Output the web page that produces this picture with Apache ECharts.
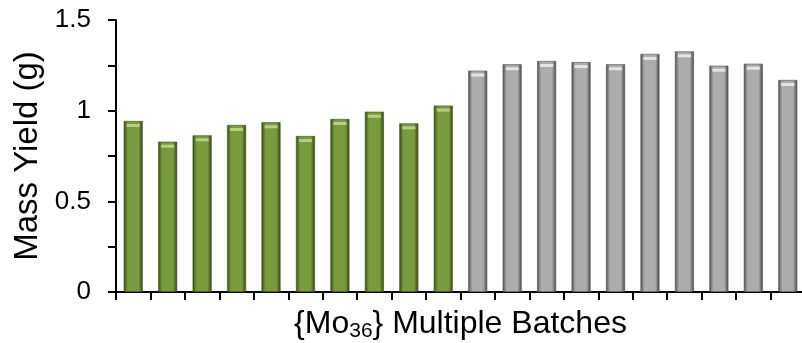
<!DOCTYPE html>
<html>
<head>
<meta charset="utf-8">
<script src="https://cdn.jsdelivr.net/npm/echarts@6/dist/echarts.min.js"></script>
<style>
html,body{margin:0;padding:0;background:#fff;}
#chart{width:802px;height:343px;}
</style>
</head>
<body>
<div id="chart"></div>
<script>
var categories = ['1','2','3','4','5','6','7','8','9','10','11','12','13','14','15','16','17','18','19','20'];
var greenValues = [0.943, 0.829, 0.864, 0.921, 0.936, 0.860, 0.954, 0.994, 0.930, 1.028, null, null, null, null, null, null, null, null, null, null];
var grayValues = [null, null, null, null, null, null, null, null, null, null, 1.221, 1.256, 1.274, 1.268, 1.256, 1.313, 1.327, 1.248, 1.259, 1.169];
var yTickLabels = ['0', '0.5', '1', '1.5'];
var yTitle = 'Mass Yield (g)';
var xTitle = '{Mo{s|36}} Multiple Batches';

function edgeGradient(edge, mid, main) {
  return new echarts.graphic.LinearGradient(0, 0, 1, 0, [
    {offset: 0, color: edge},
    {offset: 0.12, color: mid},
    {offset: 0.22, color: main},
    {offset: 0.78, color: main},
    {offset: 0.86, color: mid},
    {offset: 1, color: edge}
  ]);
}

var chart = echarts.init(document.getElementById('chart'), null, {renderer: 'canvas'});
var font = '"Liberation Sans", Arial, sans-serif';
chart.setOption({
  animation: false,
  backgroundColor: '#ffffff',
  grid: {left: 116, top: 20, width: 689, bottom: 51, containLabel: false, outerBoundsMode: 'none'},
  xAxis: {
    type: 'category',
    data: categories,
    boundaryGap: true,
    name: xTitle,
    nameLocation: 'middle',
    nameGap: 14,
    nameTextStyle: {
      fontFamily: font, fontSize: 32, color: '#000', lineHeight: 36,
      rich: {s: {fontFamily: font, fontSize: 21, color: '#000', verticalAlign: 'bottom', lineHeight: 24}}
    },
    axisLine: {lineStyle: {color: '#000', width: 2}},
    axisTick: {show: true, alignWithLabel: false, inside: false, length: 8, lineStyle: {color: '#000', width: 2}},
    axisLabel: {show: false},
    splitLine: {show: false}
  },
  yAxis: {
    type: 'value',
    min: 0,
    max: 1.5,
    interval: 0.25,
    name: yTitle,
    nameLocation: 'middle',
    nameGap: 70,
    nameTextStyle: {fontFamily: font, fontSize: 33, color: '#000'},
    axisLine: {show: true, lineStyle: {color: '#000', width: 2}},
    axisTick: {show: true, inside: false, length: 8, lineStyle: {color: '#000', width: 2}},
    axisLabel: {
      fontFamily: font, fontSize: 26, color: '#000', margin: 25,
      formatter: function (v) {
        for (var i = 0; i < yTickLabels.length; i++) {
          if (Math.abs(parseFloat(yTickLabels[i]) - v) < 1e-9) return yTickLabels[i];
        }
        return '';
      }
    },
    splitLine: {show: false}
  },
  series: [
    {
      type: 'bar', data: greenValues, barWidth: 19, barGap: '-100%',
      itemStyle: {color: edgeGradient('#34461a', '#5f7a2c', '#7a9a3e'), borderColor: '#3f5419', borderWidth: 0.6}
    },
    {
      type: 'bar', data: grayValues, barWidth: 19, barGap: '-100%',
      itemStyle: {color: edgeGradient('#444444', '#888888', '#acacac'), borderColor: '#555', borderWidth: 0.6}
    },
    {
      type: 'pictorialBar', data: greenValues, symbol: 'rect', symbolSize: [13, 3],
      symbolPosition: 'end', symbolOffset: [0, 3], barGap: '-100%', z: 5,
      itemStyle: {color: '#b5d080'}
    },
    {
      type: 'pictorialBar', data: grayValues, symbol: 'rect', symbolSize: [13, 3],
      symbolPosition: 'end', symbolOffset: [0, 3], barGap: '-100%', z: 5,
      itemStyle: {color: '#e4e4e4'}
    }
  ]
});
</script>
</body>
</html>
